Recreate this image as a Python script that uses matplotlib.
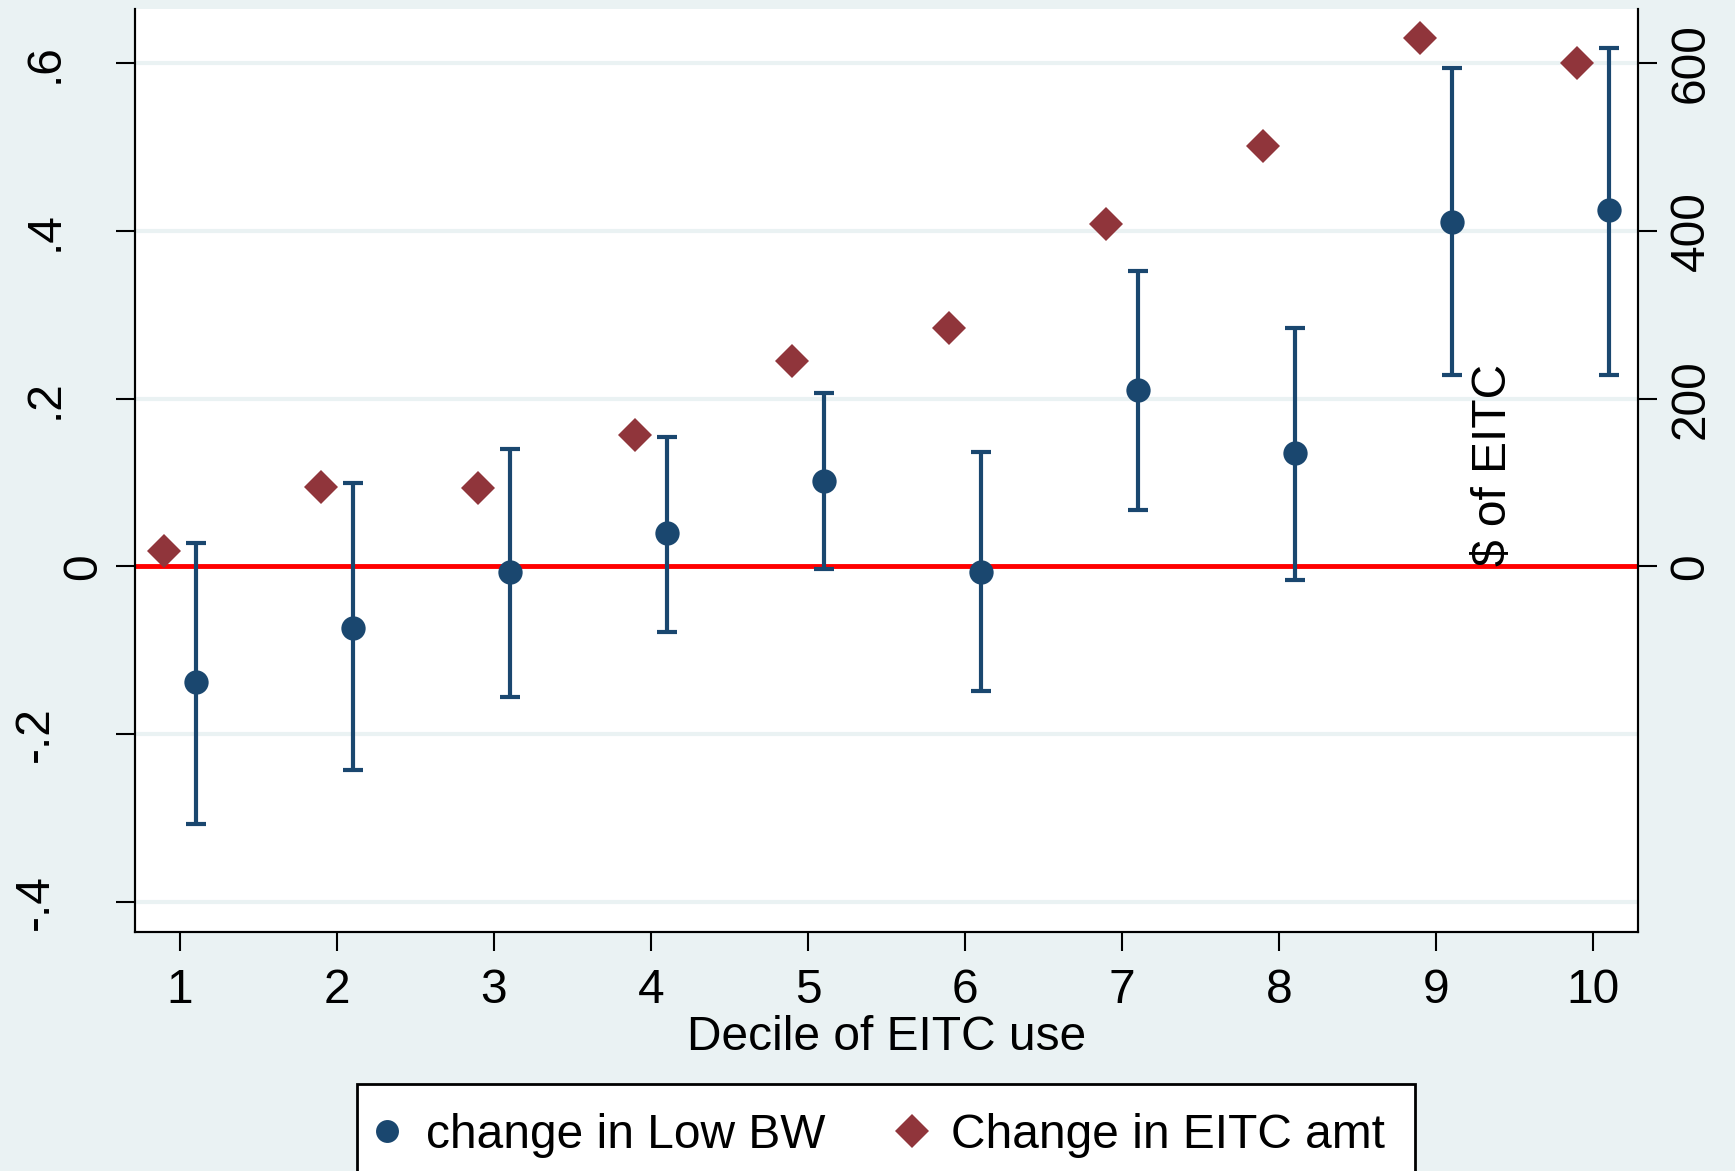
import matplotlib
matplotlib.use("Agg")
import matplotlib.pyplot as plt
from matplotlib.lines import Line2D
from matplotlib.patches import Rectangle
import numpy as np

plt.rcParams['font.family'] = ['Liberation Sans', 'DejaVu Sans']

deciles = [1, 2, 3, 4, 5, 6, 7, 8, 9, 10]
lowbw = [-0.138, -0.073, -0.007, 0.040, 0.102, -0.007, 0.210, 0.135, 0.411, 0.425]
lowbw_hi = [0.028, 0.099, 0.140, 0.154, 0.207, 0.136, 0.352, 0.285, 0.595, 0.618]
lowbw_lo = [-0.307, -0.243, -0.156, -0.078, -0.003, -0.148, 0.067, -0.016, 0.228, 0.228]
eitc_amt = [18, 95, 94, 157, 245, 285, 409, 502, 630, 601]

left_ticks = [-0.4, -0.2, 0, 0.2, 0.4, 0.6]
left_labels = ['-.4', '-.2', '0', '.2', '.4', '.6']
right_ticks = [0, 200, 400, 600]
right_labels = ['0', '200', '400', '600']

BG = '#eaf2f3'
NAVY = '#1a476f'
MAROON = '#90353b'
FS = 34.5

W, H = 1735, 1171
fig = plt.figure(figsize=(W / 100, H / 100), dpi=100, facecolor=BG)
ax = fig.add_axes([135 / W, 1 - 932 / H, (1638 - 135) / W, (932 - 9) / H])
ax.set_facecolor('white')
ax2 = ax.twinx()

x = np.array(deciles, dtype=float)
y = np.array(lowbw)
yerr = np.vstack([y - np.array(lowbw_lo), np.array(lowbw_hi) - y])

for t in left_ticks:
    if t != 0:
        ax.axhline(t, color=BG, lw=3, zorder=0)
ax.axhline(0, color='#ff0000', lw=3.5, zorder=1)

ax.errorbar(x + 0.1, y, yerr=yerr, fmt='none', ecolor=NAVY, elinewidth=3,
            capsize=7.4, capthick=3, zorder=3)
ax.plot(x + 0.1, y, 'o', color=NAVY, markersize=17.5, markeredgewidth=0, zorder=4)

ax2.plot(x - 0.1, eitc_amt, 'D', color=MAROON, markersize=17, markeredgewidth=0, zorder=4)

ax.set_xlim(0.713, 10.287)
ax.set_ylim(-0.436, 0.665)
ax2.set_ylim(-436, 665)

ax.set_xticks(deciles)
ax.set_xticklabels([str(d) for d in deciles], fontsize=FS)
ax.set_yticks(left_ticks)
ax.set_yticklabels(left_labels, fontsize=FS, rotation=90, va='center')
ax2.set_yticks(right_ticks)
ax2.set_yticklabels(right_labels, fontsize=FS, rotation=90, va='center')

ax.tick_params(axis='x', length=14, width=1.5, pad=12)
ax.tick_params(axis='y', length=14, width=1.5, pad=6.5)
ax2.tick_params(axis='y', length=14, width=1.5, pad=8)

# Stata-style placement of rotated labels: shorter strings sit nearer the axis
axes_w_px = 1638 - 135
for lab in ax.get_yticklabels():
    s = lab.get_text()
    if s.startswith('-'):
        lab.set_x(-49 / axes_w_px)
    elif s.startswith('.'):
        lab.set_x(-39 / axes_w_px)

for a in (ax, ax2):
    a.spines['top'].set_visible(False)
    for s in ('left', 'right', 'bottom'):
        a.spines[s].set_linewidth(1.5)
        a.spines[s].set_color('black')

ax.set_xlabel('Decile of EITC use', fontsize=FS, labelpad=1)
ax2.text(0.904, 0.396, '$ of EITC', transform=ax.transAxes, rotation=90,
         ha='center', va='bottom', fontsize=FS, zorder=5)

# legend box (extends beyond bottom edge as in the reference)
fig.patches.append(Rectangle((357 / W, -0.05), (1415 - 357) / W, (1 - 1084 / H) + 0.05,
                             transform=fig.transFigure, facecolor='white',
                             edgecolor='black', linewidth=2, zorder=0))
handles = [
    Line2D([], [], marker='o', color=NAVY, linestyle='none', markersize=16.5, markeredgewidth=0),
    Line2D([], [], marker='D', color=MAROON, linestyle='none', markersize=17, markeredgewidth=0),
]
em = FS * 100 / 72
leg = fig.legend(handles, ['change in Low BW', 'Change in EITC amt'], ncol=2,
                 loc='center left', bbox_to_anchor=((387 - 0.2 * em) / W, 1 - 1135 / H),
                 fontsize=FS, frameon=False,
                 handlelength=0.4, handletextpad=0.62, columnspacing=1.59,
                 borderpad=0, borderaxespad=0)

fig.savefig('out.png', dpi=100, facecolor=BG)
